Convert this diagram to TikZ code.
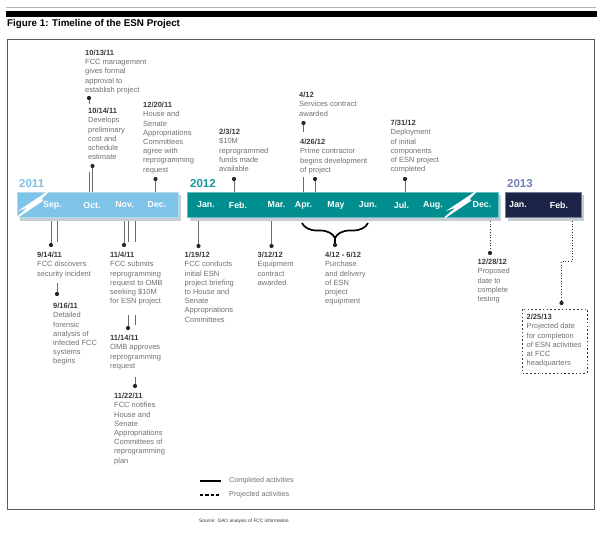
\documentclass[tikz,border=0pt]{standalone}
\usepackage{fontspec}
\setmainfont{Liberation Sans}
\usetikzlibrary{decorations.pathreplacing}
\definecolor{c11}{HTML}{7EC3E8}
\definecolor{c12}{HTML}{008E8F}
\definecolor{c13}{HTML}{1B2447}
\definecolor{y11}{HTML}{7EC0E4}
\definecolor{y12}{HTML}{16979A}
\definecolor{y13}{HTML}{6F80B6}
\definecolor{descgray}{HTML}{707070}
\definecolor{dategray}{HTML}{383838}
\definecolor{tickgray}{HTML}{6A6A6A}
\definecolor{shadowc}{HTML}{C6CDD4}
\definecolor{framec}{HTML}{5A5A5A}
\newcommand\dte[1]{\textcolor{dategray}{\textbf{#1}}}
\begin{document}
\begin{tikzpicture}[x=1pt,y=-1pt,
  evt/.style={anchor=north west, inner sep=0pt, align=left, font=\fontsize{7.5}{9.2}\selectfont, text=descgray},
  mon/.style={text=white, font=\bfseries\fontsize{8.8}{10}\selectfont, inner sep=0pt},
  yr/.style={anchor=base west, inner sep=0pt, font=\bfseries\fontsize{11.5}{12}\selectfont},
  bar/.style={rectangle, inner sep=0pt, minimum height=25pt},
  tick/.style={draw=tickgray, line width=0.9pt},
  proj/.style={draw=black!80, line width=0.9pt, dash pattern=on 0.9pt off 1.8pt},
  dotn/.style={circle, fill=black!85, inner sep=0pt, minimum size=4.2pt},
  leg/.style={anchor=west, inner sep=0pt, font=\fontsize{7.2}{8}\selectfont, text=descgray},
  bolt/.style={fill=white, draw=white, line width=1.4pt, line join=miter},
]
\useasboundingbox (0,0) rectangle (601,532);
% header
\draw[gray!60, line width=1pt] (6,7.5) -- (596,7.5);
\fill[black] (6,11) rectangle (597,17.5);
\node[anchor=base west, inner sep=0pt, font=\bfseries\fontsize{9.8}{11}\selectfont] (title) at (7,27) {Figure 1: Timeline of the ESN Project};
\draw[framec, line width=0.8pt] (7,39) rectangle (594,509);

% bars
\fill[shadowc] (19.5,194.5) rectangle (180.5,220.5);
\fill[shadowc] (189.5,194.5) rectangle (500.5,220.5);
\fill[shadowc] (507.5,194.5) rectangle (583.5,220.5);
\node[bar, fill=c11, draw=c11!60!white, line width=0.5pt, minimum width=161pt] (bar11) at (97.5,204.5) {};
\node[bar, fill=c12, draw=c12!60!white, line width=0.5pt, minimum width=311pt] (bar12) at (342.5,204.5) {};
\node[bar, fill=c13, draw=c13!60!white, line width=0.5pt, minimum width=76pt] (bar13) at (543,204.5) {};
% bolts
\path[bolt] (47,192.5) -- (23,208.5) -- (31,205.5) -- (17,217.5) -- (43,200) -- (37.5,202.5) -- cycle;
\path[bolt] (475,192.5) -- (451,208.5) -- (459,205.5) -- (445,217.5) -- (471,200) -- (465.5,202.5) -- cycle;

% years
\node[yr, text=y11] (yr11) at (19,187) {2011};
\node[yr, text=y12] (yr12) at (190,187) {2012};
\node[yr, text=y13] (yr13) at (507,187) {2013};

% months
\node[mon] (m09) at (52.5,205) {Sep.};
\node[mon] (m10) at (92,205) {Oct.};
\node[mon] (m11) at (124.5,205) {Nov.};
\node[mon] (m12) at (157,205) {Dec.};
\node[mon] (n01) at (206,205) {Jan.};
\node[mon] (n02) at (238,205) {Feb.};
\node[mon] (n03) at (276.5,205) {Mar.};
\node[mon] (n04) at (303.5,205) {Apr.};
\node[mon] (n05) at (336,205) {May};
\node[mon] (n06) at (368,205) {Jun.};
\node[mon] (n07) at (401.5,205) {Jul.};
\node[mon] (n08) at (433,205) {Aug.};
\node[mon] (n12) at (482,205) {Dec.};
\node[mon] (o01) at (518,205) {Jan.};
\node[mon] (o02) at (559,205) {Feb.};

% events above
\node[evt] (t1013) at (85,49.8) {\dte{10/13/11}\\FCC management\\gives formal\\approval to\\establish project};
\node[evt] (t1014) at (88,108.1) {\dte{10/14/11}\\Develops\\preliminary\\cost and\\schedule\\estimate};
\node[evt] (t1220) at (143,102.1) {\dte{12/20/11}\\House and\\Senate\\Appropriations\\Committees\\agree with\\reprogramming\\request};
\node[evt] (t0203) at (219,129.1) {\dte{2/3/12}\\\$10M\\reprogrammed\\funds made\\available};
\node[evt] (t0412) at (299,92.1) {\dte{4/12}\\Services contract\\awarded};
\node[evt] (t0426) at (300,139.1) {\dte{4/26/12}\\Prime contractor\\begins development\\of project};
\node[evt] (t0731) at (390.5,120.1) {\dte{7/31/12}\\Deployment\\of initial\\components\\of ESN project\\completed};

% events below
\node[evt] (t0914) at (37,252.1) {\dte{9/14/11}\\FCC discovers\\security incident};
\node[evt] (t0916) at (53,303.1) {\dte{9/16/11}\\Detailed\\forensic\\analysis of\\infected FCC\\systems\\begins};
\node[evt] (t1104) at (110,252.1) {\dte{11/4/11}\\FCC submits\\reprogramming\\request to OMB\\seeking \$10M\\for ESN project};
\node[evt] (t1114) at (110,335.1) {\dte{11/14/11}\\OMB approves\\reprogramming\\request};
\node[evt] (t1122) at (114,393.1) {\dte{11/22/11}\\FCC notifies\\House and\\Senate\\Appropriations\\Committees of\\reprogramming\\plan};
\node[evt] (t0119) at (184.5,252.1) {\dte{1/19/12}\\FCC conducts\\initial ESN\\project briefing\\to House and\\Senate\\Appropriations\\Committees};
\node[evt] (t0312) at (257.5,252.1) {\dte{3/12/12}\\Equipment\\contract\\awarded};
\node[evt] (t0406) at (325,252.1) {\dte{4/12 - 6/12}\\Purchase\\and delivery\\of ESN\\project\\equipment};
\node[evt] (t1228) at (477.5,259.1) {\dte{12/28/12}\\Proposed\\date to\\complete\\testing};
\node[evt] (t0225) at (526.5,314.1) {\dte{2/25/13}\\Projected date\\for completion\\of ESN activities\\at FCC\\headquarters};
\draw[black!80, line width=1pt, dash pattern=on 1.6pt off 2.2pt] (522,309) rectangle (587,373);

% dots and ticks above
\node[dotn] (p1013) at (89,98) {};
\coordinate (s1013) at (89,104);
\draw[tick] (p1013) -- (s1013);
\coordinate (a1013) at (89,172);
\draw[tick] (a1013) -- (a1013 |- bar11.north);
\node[dotn] (p1014) at (92.5,166) {};
\draw[tick] (p1014) -- (p1014 |- bar11.north);
\node[dotn] (p1220) at (155.5,179) {};
\draw[tick] (p1220) -- (p1220 |- bar11.north);
\node[dotn] (p0203) at (234,179) {};
\draw[tick] (p0203) -- (p0203 |- bar12.north);
\node[dotn] (p0412) at (303.5,123) {};
\coordinate (s0412) at (303.5,132);
\draw[tick] (p0412) -- (s0412);
\coordinate (a0412) at (303.5,177);
\draw[tick] (a0412) -- (a0412 |- bar12.north);
\node[dotn] (p0426) at (315,179) {};
\draw[tick] (p0426) -- (p0426 |- bar12.north);
\node[dotn] (p0731) at (405,179) {};
\draw[tick] (p0731) -- (p0731 |- bar12.north);

% ticks below
\node[dotn] (p0914) at (51,245) {};
\coordinate (b0914) at (51,221);
\draw[tick] (b0914) -- (p0914);
\node[dotn] (p0916) at (57,294) {};
\coordinate (b0916) at (57,221);
\coordinate (c0916) at (57,242);
\coordinate (d0916) at (57,283);
\draw[tick] (b0916) -- (c0916);
\draw[tick] (d0916) -- (p0916);
\node[dotn] (p1104) at (124,245) {};
\coordinate (b1104) at (124,221);
\draw[tick] (b1104) -- (p1104);
\node[dotn] (p1114) at (128,328) {};
\coordinate (b1114) at (128,221);
\coordinate (c1114) at (128,242);
\coordinate (d1114) at (128,315);
\draw[tick] (b1114) -- (c1114);
\draw[tick] (d1114) -- (p1114);
\node[dotn] (p1122) at (135,386) {};
\coordinate (b1122) at (135,221);
\coordinate (c1122) at (135,242);
\coordinate (d1122) at (135,315);
\coordinate (e1122) at (135,325);
\coordinate (f1122) at (135,377);
\draw[tick] (b1122) -- (c1122);
\draw[tick] (d1122) -- (e1122);
\draw[tick] (f1122) -- (p1122);
\node[dotn] (p0119) at (198.5,246) {};
\coordinate (b0119) at (198.5,221);
\draw[tick] (b0119) -- (p0119);
\node[dotn] (p0312) at (271.5,246) {};
\coordinate (b0312) at (271.5,221);
\draw[tick] (b0312) -- (p0312);
% brace
\coordinate (bra) at (302,223);
\coordinate (brb) at (368,223);
\draw[black, line width=1.7pt, decorate, decoration={brace, mirror, amplitude=15pt}] (bra) -- (brb);
\node[dotn] (p0406) at (335,245) {};
\coordinate (brt) at (335,238);
\draw[black, line width=1.2pt] (brt) -- (p0406);
% projected
\node[dotn] (p1228) at (490,253) {};
\coordinate (b1228) at (490,221);
\draw[proj] (b1228) -- (p1228);
\node[dotn] (p0225) at (561.5,303) {};
\coordinate (b0225) at (572,221);
\coordinate (c0225) at (572,261);
\draw[proj] (b0225) -- (c0225) -| (p0225);

% legend
\coordinate (la) at (200,481);
\coordinate (lb) at (221,481);
\draw[black, line width=1.1pt] (la) -- (lb);
\node[leg] (lc) at (229,481) {Completed activities};
\coordinate (lda) at (200,495);
\coordinate (ldb) at (221,495);
\draw[black, line width=2pt, dash pattern=on 3.2pt off 2.1pt] (lda) -- (ldb);
\node[leg] (lp) at (229,495) {Projected activities};
\node[anchor=west, inner sep=0pt, font=\fontsize{4.8}{6}\selectfont, text=black!80] (src) at (199,521) {Source: GAO analysis of FCC information.};
\end{tikzpicture}
\end{document}
